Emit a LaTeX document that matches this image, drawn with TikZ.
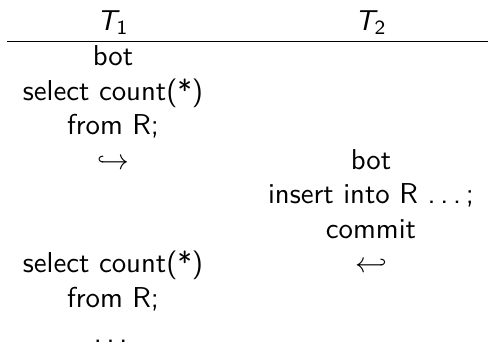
\documentclass[tikz,border=0pt]{standalone}
\usepackage{amsmath}
\newcommand{\mydots}{.\kern\fontdimen3\font.\kern\fontdimen3\font.\kern\fontdimen3\font}
\begin{document}
\begin{tikzpicture}[x=0.3478pt,y=-0.3478pt,
  cell/.style={anchor=base,inner sep=0pt,font=\sffamily\fontsize{10}{12}\selectfont},
  rule/.style={line width=0.5pt}]
\useasboundingbox (0,0) rectangle (488,359);
\node[cell] (h1) at (113,30.6) {$\textit{T}_{\textsf{1}}$};
\node[cell] (h2) at (371,30.6) {$\textit{T}_{\textsf{2}}$};
\coordinate (ls) at (7,41.5);
\coordinate (le) at (488,41.5);
\draw[rule] (ls) -- (le);
\node[cell] (a1) at (113,66) {bot};
\node[cell] (a2) at (113,100.5) {select count(*)};
\node[cell] (a3) at (113,135) {from R;};
\node[cell] (a4) at (113,169.5) {$\hookrightarrow$};
\node[cell] (b1) at (371,169.5) {bot};
\node[cell] (b2) at (371,204) {insert into R \mydots;};
\node[cell] (b3) at (371,238.5) {commit};
\node[cell] (b4) at (371,273) {$\hookleftarrow$};
\node[cell] (a5) at (113,273) {select count(*)};
\node[cell] (a6) at (113,307.5) {from R;};
\node[cell] (a7) at (113,342) {\mydots};
\end{tikzpicture}
\end{document}
